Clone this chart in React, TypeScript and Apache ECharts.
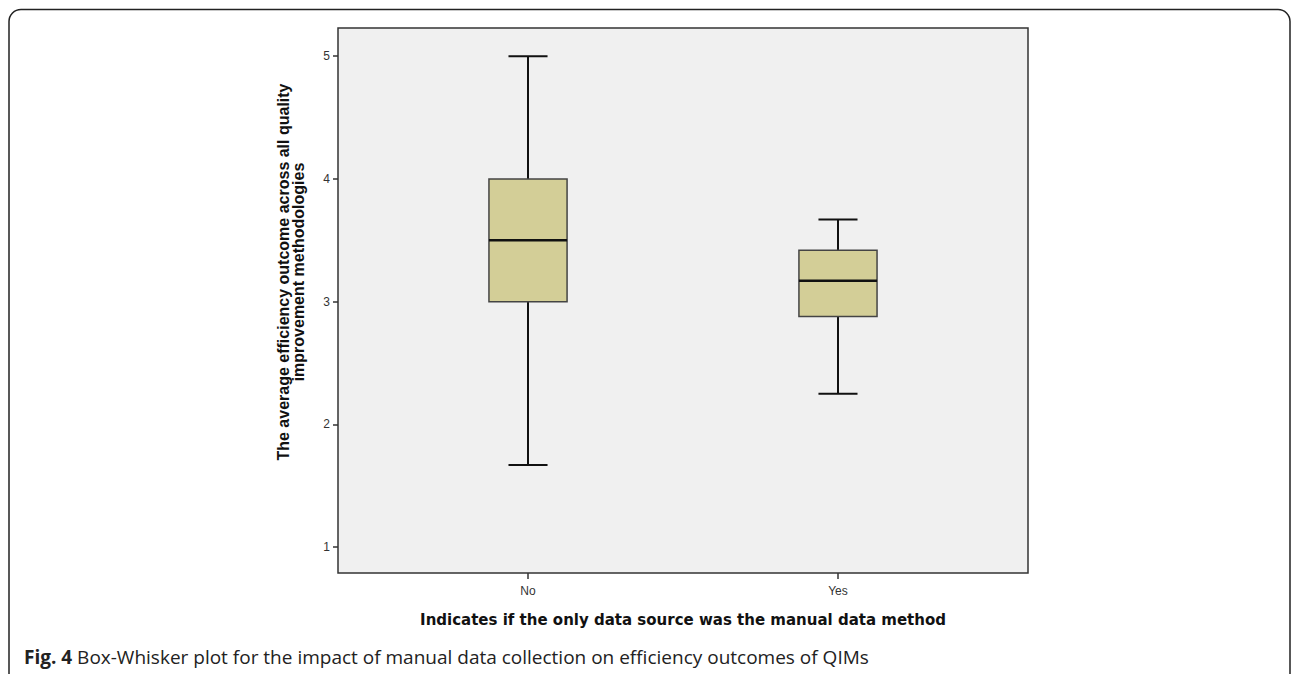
import React, { useEffect, useRef } from "react";
import * as echarts from "echarts";

const categories = ["No", "Yes"];
const positions = [1, 2];
const lowerWhisker = [1.67, 2.25];
const q1 = [3.0, 2.88];
const median = [3.5, 3.17];
const q3 = [4.0, 3.42];
const upperWhisker = [5.0, 3.67];
const yTicks = [1, 2, 3, 4, 5];

const yName1 = "The average efficiency outcome across all quality";
const yName2 = "improvement methodologies";
const xName = "Indicates if the only data source was the manual data method";
const captionBold = "Fig. 4";
const captionText = " Box-Whisker plot for the impact of manual data collection on efficiency outcomes of QIMs";

export default function App() {
  const ref = useRef<HTMLDivElement>(null);
  useEffect(() => {
    document.body.style.margin = "0";
    const chart = echarts.init(ref.current!, null, { renderer: "svg" });
    const data = positions.map((p, i) => [p, lowerWhisker[i], q1[i], median[i], q3[i], upperWhisker[i]]);
    const font = "Arial, 'Liberation Sans', sans-serif";
    chart.setOption({
      animation: false,
      backgroundColor: "#ffffff",
      grid: {
        left: 338,
        right: 264,
        top: 28,
        bottom: 101,
        show: true,
        backgroundColor: "#f0f0f0",
        borderColor: "#333333",
        borderWidth: 1.5,
      },
      xAxis: {
        type: "value",
        min: 0.387,
        max: 2.613,
        splitLine: { show: false },
        axisLine: { show: false },
        axisTick: { show: true, length: 6, customValues: positions, lineStyle: { color: "#333", width: 1.5 } },
        axisLabel: {
          customValues: positions,
          formatter: (v: number) => categories[Math.round(v) - 1] ?? "",
          color: "#333",
          fontFamily: font,
          fontSize: 12,
          margin: 12,
        },
      },
      yAxis: {
        type: "value",
        min: 0.79,
        max: 5.23,
        splitLine: { show: false },
        axisLine: { show: false },
        axisTick: { show: true, length: 5, customValues: yTicks, lineStyle: { color: "#333", width: 1.5 } },
        axisLabel: {
          customValues: yTicks,
          color: "#333",
          fontFamily: font,
          fontSize: 12,
          margin: 8,
        },
      },
      series: [
        {
          type: "custom",
          data,
          encode: { x: 0, y: [1, 2, 3, 4, 5] },
          renderItem: (params: any, api: any) => {
            const x = api.value(0);
            const w = api.size([0.252, 0])[0];
            const cap = w / 2;
            const pMin = api.coord([x, api.value(1)]);
            const pQ1 = api.coord([x, api.value(2)]);
            const pMed = api.coord([x, api.value(3)]);
            const pQ3 = api.coord([x, api.value(4)]);
            const pMax = api.coord([x, api.value(5)]);
            const cx = pMed[0];
            const lineStyle = { stroke: "#111", lineWidth: 2 };
            return {
              type: "group",
              children: [
                { type: "line", shape: { x1: cx, y1: pQ1[1], x2: cx, y2: pMin[1] }, style: lineStyle },
                { type: "line", shape: { x1: cx, y1: pQ3[1], x2: cx, y2: pMax[1] }, style: lineStyle },
                { type: "line", shape: { x1: cx - cap / 2, y1: pMin[1], x2: cx + cap / 2, y2: pMin[1] }, style: lineStyle },
                { type: "line", shape: { x1: cx - cap / 2, y1: pMax[1], x2: cx + cap / 2, y2: pMax[1] }, style: lineStyle },
                {
                  type: "rect",
                  shape: { x: cx - w / 2, y: pQ3[1], width: w, height: pQ1[1] - pQ3[1] },
                  style: { fill: "#d3ce97", stroke: "#444", lineWidth: 1.5 },
                },
                { type: "line", shape: { x1: cx - w / 2, y1: pMed[1], x2: cx + w / 2, y2: pMed[1] }, style: { stroke: "#111", lineWidth: 2.5 } },
              ],
            };
          },
        },
      ],
      graphic: [
        {
          type: "rect",
          shape: { x: 9, y: 9.5, width: 1281, height: 720, r: 12 },
          style: { fill: "none", stroke: "#222", lineWidth: 1.5 },
          silent: true,
        },
        {
          type: "text",
          x: 291,
          y: 272,
          rotation: Math.PI / 2,
          style: {
            text: yName1 + "\n" + yName2,
            fontFamily: font,
            fontWeight: "bold",
            fontSize: 16,
            fill: "#111",
            align: "center",
            verticalAlign: "middle",
            lineHeight: 15,
          },
          originX: 0,
          originY: 0,
        },
        {
          type: "text",
          x: 683,
          y: 620,
          style: {
            text: xName,
            fontFamily: "'DejaVu Sans', Verdana, sans-serif",
            fontWeight: "bold",
            fontSize: 15,
            fill: "#111",
            align: "center",
            verticalAlign: "middle",
          },
        },
        {
          type: "text",
          x: 24,
          y: 657,
          style: {
            text: "{b|" + captionBold + "}{r|" + captionText + "}",
            verticalAlign: "middle",
            rich: {
              b: { fontFamily: "'Open Sans', sans-serif", fontWeight: "bold", fontSize: 19, fill: "#222" },
              r: { fontFamily: "'Open Sans', sans-serif", fontSize: 19, fill: "#222" },
            },
          },
        },
      ],
    });
    return () => chart.dispose();
  }, []);
  return <div ref={ref} style={{ width: 1292, height: 674 }} />;
}
